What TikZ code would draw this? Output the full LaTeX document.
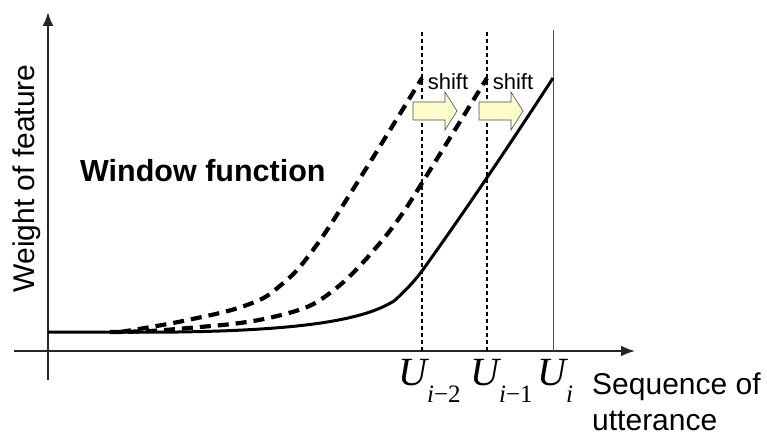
\documentclass[tikz,border=0pt]{standalone}
\usepackage{fontspec}
\setmainfont{Liberation Sans}
\newfontfamily\timesfont{Liberation Serif}
\usetikzlibrary{arrows.meta}

\newcommand{\ulabel}[2]{{\timesfont\fontsize{40}{40}\selectfont\itshape U\raisebox{-17pt}{\fontsize{25}{25}\selectfont #1\upshape #2}}}

\begin{document}
\begin{tikzpicture}[x=10pt,y=10pt,
    asse/.style={line width=2pt, black!85, -{Latex[length=14pt,width=11pt]}},
    finestra/.style={line width=4.2pt, dash pattern=on 11pt off 7pt},
    marcatore/.style={line width=1.3pt, dash pattern=on 4pt off 3pt},
    testo/.style={inner sep=0pt, font=\fontsize{30}{30}\selectfont}]
    \useasboundingbox (-4.8,-8.5) rectangle (71.9,35.1);

    % origine
    \coordinate (O) at (0,0);

    % assi
    \draw[asse] (-3.4,0) -- (58.7,0);
    \draw[asse] (0,-2.9) -- (0,33.9);

    % linee verticali U_{i-2}, U_{i-1}, U_i
    \draw[marcatore] (37.4,0) -- (37.4,32.1);
    \draw[marcatore] (43.9,0) -- (43.9,32.1);
    \draw[line width=0.9pt, black!70] (50.5,0) -- (50.5,32.1);

    % finestre spostate
    \draw[finestra] plot[smooth, tension=0.7] coordinates {(7.2,1.9) (13.5,3.0) (19.9,4.6) (23.3,6.6) (26.5,10.1) (30.9,16.8) (37.4,27.3)};
    \draw[finestra] plot[smooth, tension=0.6] coordinates {(6.2,1.9) (10.2,2.0) (15.2,2.4) (19.2,2.8) (22.5,3.4) (25.9,4.4) (28.2,5.8) (30.5,7.8) (33.2,10.8) (35.2,13.4) (37.4,16.8) (43.9,27.3)};

    % finestra attuale
    \draw[line width=3pt] (0,1.9) -- (13,1.9)
        .. controls (27,2.1) and (32,3.4) .. (34.6,5.0)
        .. controls (35.6,5.9) and (36.5,6.8) .. (37.4,8.0)
        .. controls (40,11.6) and (45,18.8) .. (50.5,27.3);

    % frecce di spostamento
    \foreach \s in {0,6.6} {
        \draw[fill=yellow!20, draw=black!70, line width=0.6pt]
            ({36.5+\s},23.1) -- ({39.7+\s},23.1) -- ({39.7+\s},22.1) -- ({40.9+\s},24.0)
            -- ({39.7+\s},25.9) -- ({39.7+\s},24.9) -- ({36.5+\s},24.9) -- cycle;
    }
    \node[inner sep=0pt, anchor=base, font=\fontsize{22}{22}\selectfont] (shift1) at (40.0,26.1) {shift};
    \node[inner sep=0pt, anchor=base, font=\fontsize{22}{22}\selectfont] (shift2) at (46.5,26.1) {shift};

    % etichette
    \node[testo, font=\bfseries\fontsize{30.5}{30.5}\selectfont, anchor=base west] (window) at (3.2,16.9) {Window function};
    \node[testo, rotate=90, anchor=base] (weight) at (-1.4,17.25) {Weight of feature};
    \node[testo, anchor=base west] (seq) at (54.4,-4.3) {Sequence of};
    \node[testo, anchor=base west] (utt) at (54.4,-7.9) {utterance};

    \node[inner sep=0pt, anchor=base west] (u2) at (35.0,-3.4) {\ulabel{i}{−2}};
    \node[inner sep=0pt, anchor=base west] (u1) at (42.2,-3.4) {\ulabel{i}{−1}};
    \node[inner sep=0pt, anchor=base west] (u0) at (48.9,-3.4) {\ulabel{i}{}};
\end{tikzpicture}
\end{document}
